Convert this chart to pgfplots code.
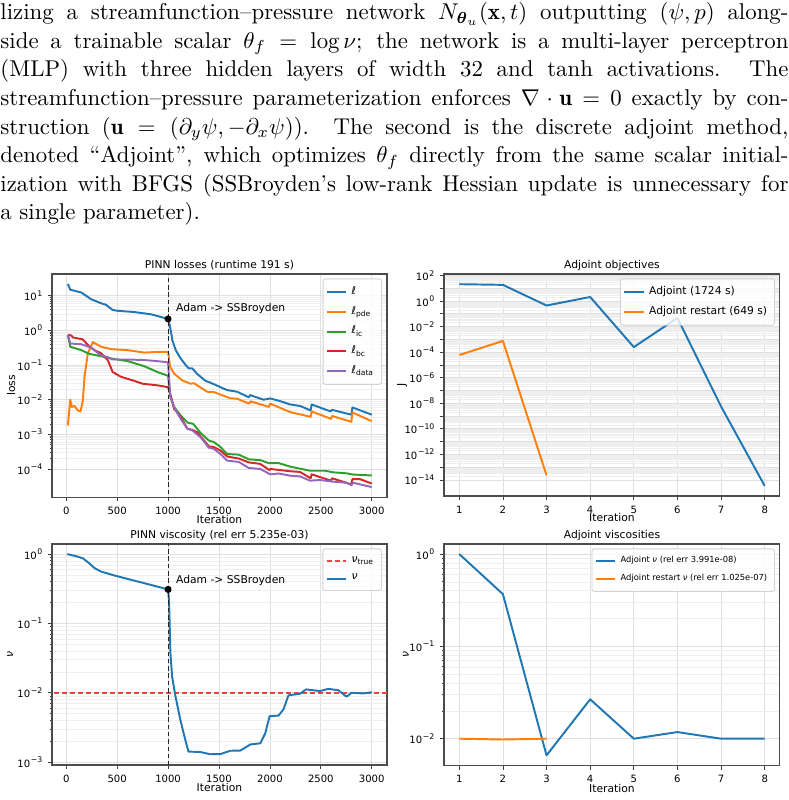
\documentclass[border=0pt]{standalone}
\usepackage{amsmath}
\usepackage{fontspec}
\usepackage{pgfplots}
\pgfplotsset{compat=1.18}
\newfontfamily\dv{DejaVu Sans}

\definecolor{c0}{HTML}{1F77B4}
\definecolor{c1}{HTML}{FF7F0E}
\definecolor{c2}{HTML}{2CA02C}
\definecolor{c3}{HTML}{D62728}
\definecolor{c4}{HTML}{9467BD}

\newcommand\fs{\dv\fontsize{4.7}{5.6}\selectfont}
\newcommand\fst{\dv\fontsize{4.4}{5.3}\selectfont}
\newcommand\fss{\dv\fontsize{3.65}{4.4}\selectfont}
% power-of-ten tick label
\newcommand\tp[1]{{\fst 10\kern0.3pt\raisebox{2.0pt}{\dv\fontsize{3.4}{4}\selectfont#1}}}
\newcommand\ellsub[1]{{\itshape ℓ}\textsubscript{#1}}
% panel heading, set just above the top edge of the current axis
\newcommand\paneltitle[1]{\node[anchor=base, font=\fs, inner sep=0pt]
  at ([yshift=2.3pt]rel axis cs:0.5,1) {#1};}

\pgfplotsset{
  mpl/.style={
    scale only axis,
    tick pos=left,
    tick align=outside,
    major tick length=1.7pt,
    minor tick length=1.0pt,
    every tick/.style={black!75, line width=0.35pt},
    axis line style={black!70, line width=0.45pt},
    grid=both,
    major grid style={gray!25, line width=0.35pt},
    minor grid style={gray!13, line width=0.3pt},
    every tick label/.style={font=\fst},
    xticklabel style={inner sep=0pt, anchor=north, yshift=-2.4pt},
    yticklabel style={inner sep=0pt, anchor=east, xshift=-2.3pt},
    xticklabel={\fst\pgfmathprintnumber{\tick}},
    label style={font=\fs, inner sep=0pt},
    xlabel style={at={(axis description cs:0.5,-0.099)}, anchor=center},
    ylabel style={anchor=center},
    xlabel={\fs Iteration},
    clip mode=individual,
    /pgf/number format/assume math mode=true,
    /pgf/number format/1000 sep={},
    legend style={font=\fs, draw=gray!35, rounded corners=1pt, fill=white,
      fill opacity=0.8, text opacity=1, inner sep=1.2pt, row sep=-0.3pt,
      at={(0.985,0.98)}, anchor=north east},
    legend cell align=left,
    legend image code/.code={\draw[##1] (0pt,0pt) -- (8.5pt,0pt);},
    every axis plot/.append style={line width=0.85pt, line join=round},
  },
  pinnx/.style={xmin=-140, xmax=3150, xtick={0,500,1000,1500,2000,2500,3000}},
  adjx/.style={xmin=0.65, xmax=8.35, xtick={1,2,3,4,5,6,7,8}},
  switch/.style={black!85, line width=0.5pt, dash pattern=on 2pt off 1.2pt},
}

\begin{document}
\begin{tikzpicture}
\useasboundingbox (0,0) rectangle (345pt,-350.24pt);

\node[anchor=north west, inner sep=0pt, text width=345pt, align=justify,
      font=\fontsize{10}{12.5}\selectfont] at (0,-1pt) {%
lizing a streamfunction--pressure network $N_{\boldsymbol{\theta}_u}(\mathbf{x},t)$ outputting $(\psi,p)$ along-\linebreak
side a trainable scalar $\theta_f=\log\nu$; the network is a multi-layer perceptron\linebreak
(MLP) with three hidden layers of width 32 and tanh activations. The\linebreak
streamfunction--pressure parameterization enforces $\nabla\cdot\mathbf{u}=0$ exactly by con-\linebreak
struction ($\mathbf{u}=(\partial_y\psi,-\partial_x\psi)$). The second is the discrete adjoint method,\linebreak
denoted ``Adjoint'', which optimizes $\theta_f$ directly from the same scalar initial-\linebreak
ization with BFGS (SSBroyden's low-rank Hessian update is unnecessary for\linebreak
a single parameter).};

% ---------------- PINN losses ----------------
\begin{axis}[mpl, pinnx, at={(22.77pt,-119.96pt)}, anchor=north west,
  width=146.66pt, height=97.63pt,
  ymode=log, ymin=1.55e-5, ymax=42.7,
  ytick={1e-4,1e-3,1e-2,1e-1,1,10},
  yticklabels={\tp{−4},\tp{−3},\tp{−2},\tp{−1},\tp{0},\tp{1}},
  ylabel={\fs loss},
  ylabel style={at={(axis description cs:-0.122,0.5)}}]
\addplot[c0] coordinates {(16,22)(39,15)(147,12.5)(244,8)(342,6.1)(391,5.5)(456,3.9)(505,3.7)(668,3.4)(831,2.94)(1000,2.15)(1012,1.6)(1026,1.0)(1042,0.52)(1075,0.27)(1124,0.155)(1173,0.1)(1205,0.08)(1238,0.08)(1287,0.055)(1368,0.035)(1417,0.031)(1515,0.023)(1580,0.019)(1678,0.017)(1792,0.0118)(1805,0.0136)(1938,0.0100)(2003,0.0109)(2101,0.0091)(2199,0.0073)(2296,0.0066)(2400,0.0049)(2410,0.0073)(2595,0.0046)(2610,0.0051)(2800,0.0037)(2810,0.006)(3000,0.0037)};
\addlegendentry{{\itshape ℓ}}
\addplot[c1] coordinates {(16,0.0018)(39,0.01)(55,0.0062)(81,0.0066)(114,0.0049)(140,0.0046)(163,0.0095)(179,0.046)(212,0.22)(261,0.46)(342,0.34)(440,0.29)(603,0.27)(765,0.23)(896,0.24)(1000,0.24)(1020,0.09)(1059,0.057)(1140,0.036)(1221,0.029)(1254,0.030)(1384,0.017)(1450,0.0166)(1612,0.011)(1678,0.0107)(1795,0.0077)(1810,0.009)(1990,0.0062)(2003,0.0077)(2199,0.0044)(2400,0.0032)(2410,0.0046)(2600,0.0028)(2610,0.0034)(2800,0.0023)(2810,0.0043)(3000,0.0024)};
\addlegendentry{\ellsub{pde}}
\addplot[c2] coordinates {(16,0.74)(39,0.34)(147,0.27)(228,0.21)(342,0.18)(440,0.155)(603,0.13)(765,0.093)(896,0.063)(1000,0.049)(1010,0.025)(1023,0.012)(1059,0.0062)(1124,0.0035)(1189,0.0022)(1248,0.002)(1319,0.0011)(1401,0.00066)(1450,0.0006)(1515,0.00043)(1580,0.00027)(1694,0.00026)(1792,0.00019)(1906,0.00018)(1987,0.000148)(2085,0.000148)(2199,0.000117)(2394,0.000089)(2541,0.000089)(2622,0.00008)(2752,0.000075)(2818,0.000069)(3000,0.000065)};
\addlegendentry{\ellsub{ic}}
\addplot[c3] coordinates {(16,0.74)(49,0.72)(65,0.63)(163,0.55)(228,0.34)(277,0.27)(342,0.22)(407,0.14)(456,0.063)(537,0.046)(668,0.035)(749,0.029)(896,0.026)(1000,0.023)(1030,0.012)(1059,0.0055)(1124,0.0032)(1189,0.00145)(1238,0.00135)(1287,0.00115)(1401,0.00045)(1450,0.00043)(1515,0.00034)(1580,0.00023)(1694,0.0002)(1792,0.000155)(1906,0.00014)(1995,0.000093)(2005,0.0001)(2199,0.000086)(2296,0.000082)(2400,0.000054)(2410,0.00007)(2600,0.000046)(2610,0.000054)(2800,0.000036)(2810,0.000051)(2883,0.000051)(3000,0.000038)};
\addlegendentry{\ellsub{bc}}
\addplot[c4] coordinates {(16,0.74)(39,0.42)(147,0.4)(244,0.32)(342,0.19)(407,0.17)(456,0.145)(603,0.145)(765,0.14)(896,0.13)(1000,0.12)(1010,0.04)(1023,0.012)(1059,0.0062)(1124,0.0028)(1189,0.00145)(1238,0.0013)(1319,0.00083)(1401,0.00041)(1450,0.00038)(1515,0.00027)(1580,0.000174)(1694,0.00016)(1792,0.000107)(1906,0.0001)(2003,0.00007)(2085,0.000074)(2199,0.000064)(2296,0.000061)(2394,0.000046)(2492,0.000048)(2622,0.000043)(2752,0.00004)(2801,0.000034)(2818,0.00004)(3000,0.00003)};
\addlegendentry{\ellsub{data}}
\addplot[switch, forget plot] coordinates {(1000,1e-6)(1000,1e3)};
\addplot[only marks, mark=*, mark size=1.1pt, black, forget plot] coordinates {(1000,2.15)};
\node[anchor=west, font=\fs, inner sep=0pt] at (axis cs:1075,4.4) {Adam -> SSBroyden};
\paneltitle{PINN losses (runtime 191 s)}
\end{axis}

% ---------------- Adjoint objectives ----------------
\begin{axis}[mpl, adjx, at={(194.38pt,-119.96pt)}, anchor=north west,
  width=147.10pt, height=97.19pt,
  ymode=log, ymin=5.5e-16, ymax=132,
  yminorticks=false,
  ytick={1e-14,1e-13,1e-12,1e-11,1e-10,1e-9,1e-8,1e-7,1e-6,1e-5,1e-4,1e-3,1e-2,1e-1,1,10,100},
  yticklabels={\tp{−14},{},\tp{−12},{},\tp{−10},{},\tp{−8},{},\tp{−6},{},\tp{−4},{},\tp{−2},{},\tp{0},{},\tp{2}},
  ylabel={\fs J},
  ylabel style={at={(axis description cs:-0.125,0.5)}}]
\addplot[c0] coordinates {(1,21)(2,18.7)(3,0.45)(4,2.1)(5,2.5e-4)(6,0.048)(7,5.6e-9)(8,3.4e-15)};
\addlegendentry{Adjoint (1724 s)}
\addplot[c1] coordinates {(1,6e-5)(2,7.6e-4)(3,2.3e-14)};
\addlegendentry{Adjoint restart (649 s)}
\paneltitle{Adjoint objectives}
\end{axis}

% ---------------- PINN viscosity ----------------
\begin{axis}[mpl, pinnx, at={(22.77pt,-238.16pt)}, anchor=north west,
  width=146.66pt, height=96.75pt,
  ymode=log, ymin=9.1e-4, ymax=1.4,
  ytick={1e-3,1e-2,1e-1,1},
  yticklabels={\tp{−3},\tp{−2},\tp{−1},\tp{0}},
  ylabel={\fs\itshape ν},
  ylabel style={at={(axis description cs:-0.125,0.5)}},
  xlabel style={at={(axis description cs:0.5,-0.104)}}]
\addplot[red!75, line width=0.9pt, dash pattern=on 2.4pt off 1.1pt] coordinates {(-200,0.01)(3200,0.01)};
\addlegendentry{{\itshape ν}\textsubscript{true}}
\addplot[c0] coordinates {(10,1.0)(100,0.93)(163,0.87)(220,0.75)(277,0.63)(342,0.56)(456,0.5)(600,0.44)(800,0.37)(1000,0.31)(1010,0.2)(1023,0.037)(1040,0.017)(1072,0.009)(1120,0.0041)(1169,0.0021)(1200,0.00142)(1316,0.0014)(1414,0.0013)(1515,0.00131)(1612,0.00146)(1710,0.00147)(1808,0.0018)(1906,0.00187)(1954,0.0026)(1997,0.0046)(2085,0.0047)(2134,0.0058)(2182,0.0092)(2296,0.0097)(2355,0.0112)(2492,0.0106)(2573,0.0114)(2671,0.0109)(2752,0.0088)(2801,0.010)(2915,0.0098)(3000,0.0102)};
\addlegendentry{{\itshape ν}}
\addplot[switch, forget plot] coordinates {(1000,1e-4)(1000,10)};
\addplot[only marks, mark=*, mark size=1.1pt, black, forget plot] coordinates {(1000,0.31)};
\node[anchor=west, font=\fs, inner sep=0pt] at (axis cs:1075,0.42) {Adam -> SSBroyden};
\paneltitle{PINN viscosity (rel err 5.235e-03)}
\end{axis}

% ---------------- Adjoint viscosities ----------------
\begin{axis}[mpl, adjx, at={(194.38pt,-238.16pt)}, anchor=north west,
  width=147.10pt, height=97.06pt,
  ymode=log, ymin=0.0051, ymax=1.285,
  ytick={1e-2,1e-1,1},
  yticklabels={\tp{−2},\tp{−1},\tp{0}},
  ylabel={\fs\itshape ν},
  ylabel style={at={(axis description cs:-0.113,0.5)}},
  xlabel style={at={(axis description cs:0.5,-0.104)}},
  legend style={font=\fss}]
\addplot[c0] coordinates {(1,1.0)(2,0.368)(3,0.0066)(4,0.0267)(5,0.0100)(6,0.0118)(7,0.0100)(8,0.0100)};
\addlegendentry{Adjoint {\itshape ν} (rel err 3.991e-08)}
\addplot[c1] coordinates {(1,0.0100)(2,0.0098)(3,0.0100)};
\addlegendentry{Adjoint restart {\itshape ν} (rel err 1.025e-07)}
\paneltitle{Adjoint viscosities}
\end{axis}
\end{tikzpicture}
\end{document}
